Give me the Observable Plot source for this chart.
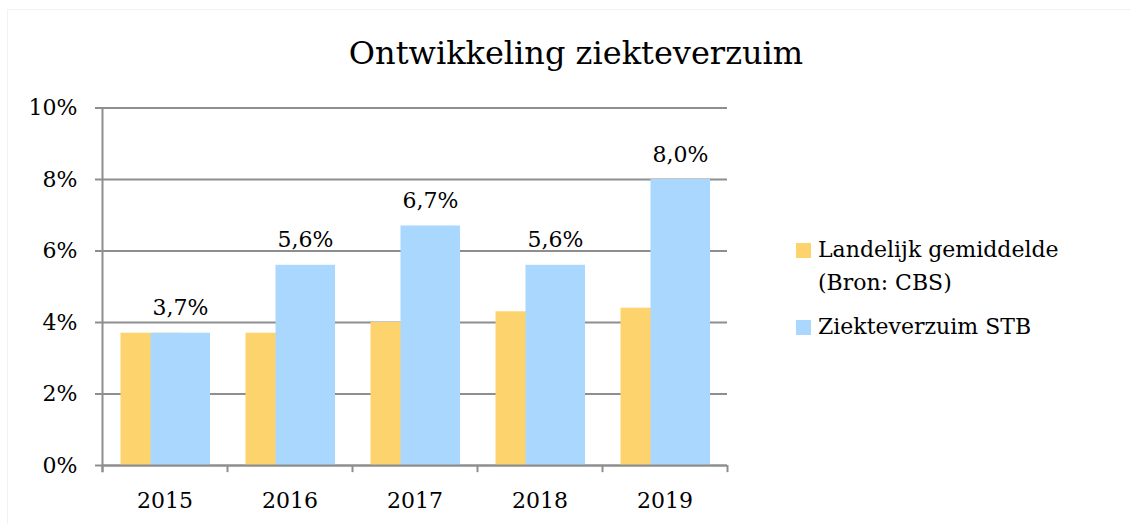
<!DOCTYPE html>
<html>
<head>
<meta charset="utf-8">
<script src="https://cdn.jsdelivr.net/npm/d3@7"></script>
<script src="https://cdn.jsdelivr.net/npm/@observablehq/plot@0.6"></script>
<style>
  html, body { margin: 0; padding: 0; background: #fff; }
  #wrap { position: relative; width: 1131px; height: 524px; overflow: hidden; font-family: "DejaVu Serif", serif; color: #000; }
  #border { position: absolute; left: 7px; top: 9px; width: 1130px; height: 520px; border-left: 1px solid #f2f2f2; border-top: 1px solid #f2f2f2; box-sizing: border-box; }
  #title { position: absolute; left: 0; top: 0; width: 1152px; height: 88px; text-align: center; font-size: 32px; line-height: 1; padding-top: 37px; box-sizing: border-box; }
  #chart { position: absolute; left: 0; top: 88px; }
  .leg { position: absolute; left: 796px; font-size: 22px; line-height: 33px; }
  .sw { position: absolute; left: 0; width: 15px; height: 15px; }
  .lt { position: absolute; left: 22px; white-space: nowrap; }
</style>
</head>
<body>
<div id="wrap">
  <div id="border"></div>
  <div id="title">Ontwikkeling ziekteverzuim</div>
  <div id="chart"></div>
  <div id="legend"></div>
</div>
<script>
const years = ["2015", "2016", "2017", "2018", "2019"];
const landelijk = [3.7, 3.7, 4.0, 4.3, 4.4];
const stb = [3.7, 5.6, 6.7, 5.6, 8.0];
const seriesNames = ["Landelijk gemiddelde\n(Bron: CBS)", "Ziekteverzuim STB"];
const colors = ["#FDD36E", "#A9D7FD"];
const yTicks = [0, 2, 4, 6, 8, 10];

const W = 1131, H = 436, ML = 102, MR = 404, MT = 19.5, MB = 59;
const band = (W - ML - MR) / years.length;
const grid = "#8e8e8e";
const font = "DejaVu Serif";

const orange = years.map((y, i) => ({year: y, value: landelijk[i]}));
const blue = years.map((y, i) => ({year: y, value: stb[i]}));
const fmt = v => v.toFixed(1).replace(".", ",") + "%";

const chart = Plot.plot({
  width: W, height: H,
  marginLeft: ML, marginRight: MR, marginTop: MT, marginBottom: MB,
  style: {fontFamily: font, fontSize: "22px", color: "#000", background: "transparent", overflow: "visible"},
  x: {type: "band", domain: years, padding: 0, axis: null},
  y: {domain: [0, 10], axis: null},
  marks: [
    Plot.ruleY(yTicks, {stroke: grid, strokeWidth: 2}),
    Plot.barY(orange, {x: "year", y: "value", fill: colors[0], insetLeft: 18.5, insetRight: 46.5}),
    Plot.barY(blue, {x: "year", y: "value", fill: colors[1], insetLeft: 48.5, insetRight: 17}),
    Plot.ruleY([0], {stroke: grid, strokeWidth: 2}),
    Plot.ruleX(years, {x: d => d, y1: 10, y2: -0.2, dx: -band / 2, stroke: grid, strokeWidth: 2, filter: (d, i) => i === 0}),
    Plot.ruleX(years, {x: d => d, y1: 0, y2: -0.2, dx: -band / 2, stroke: grid, strokeWidth: 2}),
    Plot.ruleX([years[years.length - 1]], {x: d => d, y1: 0, y2: -0.2, dx: band / 2, stroke: grid, strokeWidth: 2}),
    Plot.axisY({ticks: yTicks, tickSize: 7, tickPadding: 18, tickFormat: d => d + "%", stroke: grid, strokeWidth: 2, fontSize: 22, label: null}),
    Plot.axisX({tickSize: 0, tickPadding: 27, fontSize: 22, label: null}),
    Plot.text(blue, {x: "year", y: "value", text: d => fmt(d.value), dx: 15.5, dy: -25, fontSize: 22, lineAnchor: "middle", fill: "#000"})
  ]
});
document.getElementById("chart").appendChild(chart);

const leg = document.getElementById("legend");
const legTops = [243, 320];
seriesNames.forEach((name, i) => {
  const d = document.createElement("div");
  d.className = "leg";
  d.style.top = legTops[i] + "px";
  const sw = document.createElement("div");
  sw.className = "sw";
  sw.style.background = colors[i];
  d.appendChild(sw);
  const t = document.createElement("div");
  t.className = "lt";
  t.style.top = "-10px";
  t.innerHTML = name.split("\n").join("<br>");
  d.appendChild(t);
  leg.appendChild(d);
});
</script>
</body>
</html>
